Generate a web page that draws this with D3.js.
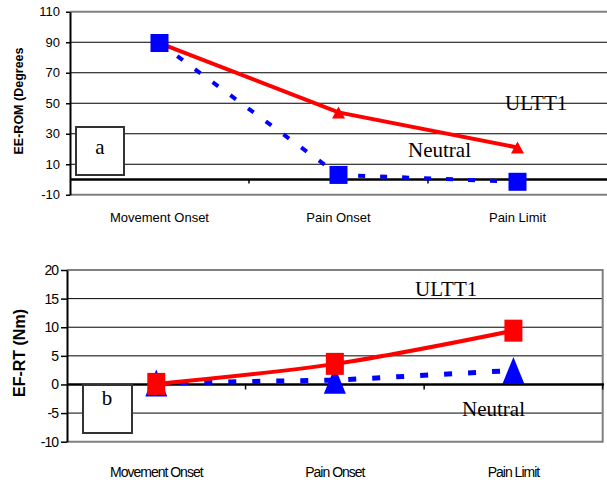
<!DOCTYPE html>
<html>
<head>
<meta charset="utf-8">
<script src="https://cdn.jsdelivr.net/npm/d3@7"></script>
<style>
  body { margin: 0; background: #fff; }
  svg { display: block; }
  .tick text { fill: #000; }
</style>
</head>
<body>
<script>
var categories = ["Movement Onset", "Pain Onset", "Pain Limit"];

// panel a : EE-ROM (degrees)
var romTicks = [110, 90, 70, 50, 30, 10, -10];
var romUltt1 = [89.5, 44, 21];
var romNeutral = [89.5, 3, -1.5];

// panel b : EF-RT (Nm)
var rtTicks = [20, 15, 10, 5, 0, -5, -10];
var rtUltt1 = [0.1, 3.6, 9.4];
var rtNeutral = [0.25, 0.75, 2.45];

var sans = "'Liberation Sans', Arial, sans-serif";
var serif = "'Liberation Serif', 'Times New Roman', serif";

var svg = d3.select("body").append("svg")
  .attr("width", 607)
  .attr("height", 483);

// ---------- panel a ----------
var xA = d3.scaleBand().domain(categories).range([70, 607]);
var yA = d3.scaleLinear().domain([-10, 110]).range([194.75, 11.75]);
var gA = svg.append("g");

// gridlines
gA.selectAll(".grid")
  .data(romTicks)
  .enter().append("line")
    .attr("x1", 70).attr("x2", 607)
    .attr("y1", function(d) { return yA(d); })
    .attr("y2", function(d) { return yA(d); })
    .style("stroke", function(d) { return (d == 110 || d == -10) ? "#808080" : "#000"; })
    .style("stroke-width", function(d) { return (d == 110 || d == -10) ? 2 : 1; });

// zero line
gA.append("line")
  .attr("x1", 70).attr("x2", 607)
  .attr("y1", yA(0)).attr("y2", yA(0))
  .style("stroke", "#000").style("stroke-width", 2.5);

// category separators on the zero line
gA.selectAll(".sep")
  .data(categories.slice(1))
  .enter().append("line")
    .attr("x1", function(d) { return xA(d); })
    .attr("x2", function(d) { return xA(d); })
    .attr("y1", yA(0)).attr("y2", yA(0) + 4)
    .style("stroke", "#000").style("stroke-width", 1.5);

// y axis
var yAxisA = gA.append("g")
  .attr("transform", "translate(70,0)")
  .call(d3.axisLeft(yA).tickValues(romTicks).tickSize(4).tickSizeOuter(0).tickPadding(6)
    .tickFormat(function(d) { return String(d); }));
yAxisA.select(".domain").style("stroke", "#000").style("stroke-width", 2);
yAxisA.selectAll(".tick line").style("stroke-width", 1.5);
yAxisA.selectAll("text")
  .style("font-family", sans).style("font-size", "13px");

// x axis labels
var xAxisA = gA.append("g")
  .attr("transform", "translate(0,213)")
  .call(d3.axisBottom(xA).tickSize(0).tickPadding(0));
xAxisA.select(".domain").remove();
xAxisA.selectAll("text")
  .style("font-family", sans).style("font-size", "13px");

gA.append("text")
  .attr("transform", "translate(23,101) rotate(-90)")
  .attr("text-anchor", "middle")
  .style("font-family", sans).style("font-size", "12.5px").style("font-weight", "bold")
  .text("EE-ROM (Degrees");

var cxA = function(d, i) { return xA(categories[i]) + xA.bandwidth() / 2; };

// ULTT1 (red, solid, triangles)
gA.append("path")
  .datum(romUltt1)
  .attr("d", d3.line().x(cxA).y(function(d) { return yA(d); }))
  .style("fill", "none").style("stroke", "#ff0000").style("stroke-width", 4);
gA.selectAll(".triA")
  .data(romUltt1)
  .enter().append("path")
    .attr("d", function(d, i) {
      var x = cxA(d, i), y = yA(d);
      return "M" + x + "," + (y - 6) + "L" + (x + 6.5) + "," + (y + 6) + "L" + (x - 6.5) + "," + (y + 6) + "Z";
    })
    .style("fill", "#ff0000");

// Neutral (blue, dashed, squares)
gA.append("path")
  .datum(romNeutral)
  .attr("d", d3.line().x(cxA).y(function(d) { return yA(d); }))
  .style("fill", "none").style("stroke", "#0000ff").style("stroke-width", 4)
  .style("stroke-dasharray", "7,15");
gA.selectAll(".sqA")
  .data(romNeutral)
  .enter().append("rect")
    .attr("x", function(d, i) { return cxA(d, i) - 9; })
    .attr("y", function(d) { return yA(d) - 9; })
    .attr("width", 18).attr("height", 18)
    .style("fill", "#0000ff");

gA.append("text").attr("x", 505).attr("y", 110)
  .style("font-family", serif).style("font-size", "21px").text("ULTT1");
gA.append("text").attr("x", 408).attr("y", 157)
  .style("font-family", serif).style("font-size", "21px").text("Neutral");

gA.append("rect")
  .attr("x", 76).attr("y", 127).attr("width", 48).attr("height", 48)
  .style("fill", "#fff").style("stroke", "#333").style("stroke-width", 2);
gA.append("text").attr("x", 100).attr("y", 154).attr("text-anchor", "middle")
  .style("font-family", serif).style("font-size", "21px").text("a");

// ---------- panel b ----------
var xB = d3.scaleBand().domain(categories).range([67, 602.7]);
var yB = d3.scaleLinear().domain([-10, 20]).range([441.7, 270]);
var gB = svg.append("g");

gB.selectAll(".grid")
  .data(rtTicks.filter(function(d) { return d != 0; }))
  .enter().append("line")
    .attr("x1", 67).attr("x2", 602.7)
    .attr("y1", function(d) { return yB(d); })
    .attr("y2", function(d) { return yB(d); })
    .style("stroke", function(d) { return (d == 20 || d == -10) ? "#808080" : "#000"; })
    .style("stroke-width", function(d) { return (d == 20 || d == -10) ? 2 : 1; });

// right border
gB.append("line")
  .attr("x1", 602.7).attr("x2", 602.7)
  .attr("y1", yB(20) - 1).attr("y2", yB(-10) + 1)
  .style("stroke", "#808080").style("stroke-width", 2);

gB.append("line")
  .attr("x1", 67).attr("x2", 604)
  .attr("y1", yB(0)).attr("y2", yB(0))
  .style("stroke", "#000").style("stroke-width", 2.5);

gB.selectAll(".sep")
  .data(categories.slice(1).concat(["end"]))
  .enter().append("line")
    .attr("x1", function(d) { return d == "end" ? 602.7 : xB(d); })
    .attr("x2", function(d) { return d == "end" ? 602.7 : xB(d); })
    .attr("y1", yB(0)).attr("y2", yB(0) + 5)
    .style("stroke", "#000").style("stroke-width", 1.5);

var yAxisB = gB.append("g")
  .attr("transform", "translate(67,0)")
  .call(d3.axisLeft(yB).tickValues(rtTicks).tickSize(6).tickSizeOuter(0).tickPadding(3)
    .tickFormat(function(d) { return String(d); }));
yAxisB.select(".domain").style("stroke", "#000").style("stroke-width", 2);
yAxisB.selectAll(".tick line").style("stroke-width", 1.5);
yAxisB.selectAll("text")
  .style("font-family", sans).style("font-size", "14px").style("letter-spacing", "-1px");

var xAxisB = gB.append("g")
  .attr("transform", "translate(0,467)")
  .call(d3.axisBottom(xB).tickSize(0).tickPadding(0));
xAxisB.select(".domain").remove();
xAxisB.selectAll("text")
  .style("font-family", sans).style("font-size", "14px").style("letter-spacing", "-1px");

gB.append("text")
  .attr("transform", "translate(25,397) rotate(-90)")
  .attr("text-anchor", "start")
  .style("font-family", sans).style("font-size", "16px").style("font-weight", "bold")
  .text("EF-RT (Nm)");

var cxB = function(d, i) { return xB(categories[i]) + xB.bandwidth() / 2; };

// Neutral (blue, dashed, triangles)
gB.append("path")
  .datum(rtNeutral)
  .attr("d", d3.line().x(cxB).y(function(d) { return yB(d); }))
  .style("fill", "none").style("stroke", "#0000ff").style("stroke-width", 5)
  .style("stroke-dasharray", "8,16");
gB.selectAll(".triB")
  .data(rtNeutral)
  .enter().append("path")
    .attr("d", function(d, i) {
      var x = cxB(d, i), y = yB(d);
      return "M" + x + "," + (y - 13.5) + "L" + (x + 11) + "," + (y + 13.5) + "L" + (x - 11) + "," + (y + 13.5) + "Z";
    })
    .style("fill", "#0000ff");

// ULTT1 (red, smoothed, squares)
gB.append("path")
  .datum(rtUltt1)
  .attr("d", d3.line().curve(d3.curveCatmullRom).x(cxB).y(function(d) { return yB(d); }))
  .style("fill", "none").style("stroke", "#ff0000").style("stroke-width", 4);
gB.selectAll(".sqB")
  .data(rtUltt1)
  .enter().append("rect")
    .attr("x", function(d, i) { return cxB(d, i) - 9; })
    .attr("y", function(d) { return yB(d) - 11; })
    .attr("width", 18).attr("height", 22)
    .style("fill", "#ff0000");

gB.append("text").attr("x", 415).attr("y", 296)
  .style("font-family", serif).style("font-size", "21px").text("ULTT1");
gB.append("text").attr("x", 462).attr("y", 416)
  .style("font-family", serif).style("font-size", "21px").text("Neutral");

gB.append("rect")
  .attr("x", 83).attr("y", 385).attr("width", 49).attr("height", 48)
  .style("fill", "#fff").style("stroke", "#333").style("stroke-width", 2);
gB.append("text").attr("x", 107).attr("y", 405).attr("text-anchor", "middle")
  .style("font-family", serif).style("font-size", "21px").text("b");
</script>
</body>
</html>
